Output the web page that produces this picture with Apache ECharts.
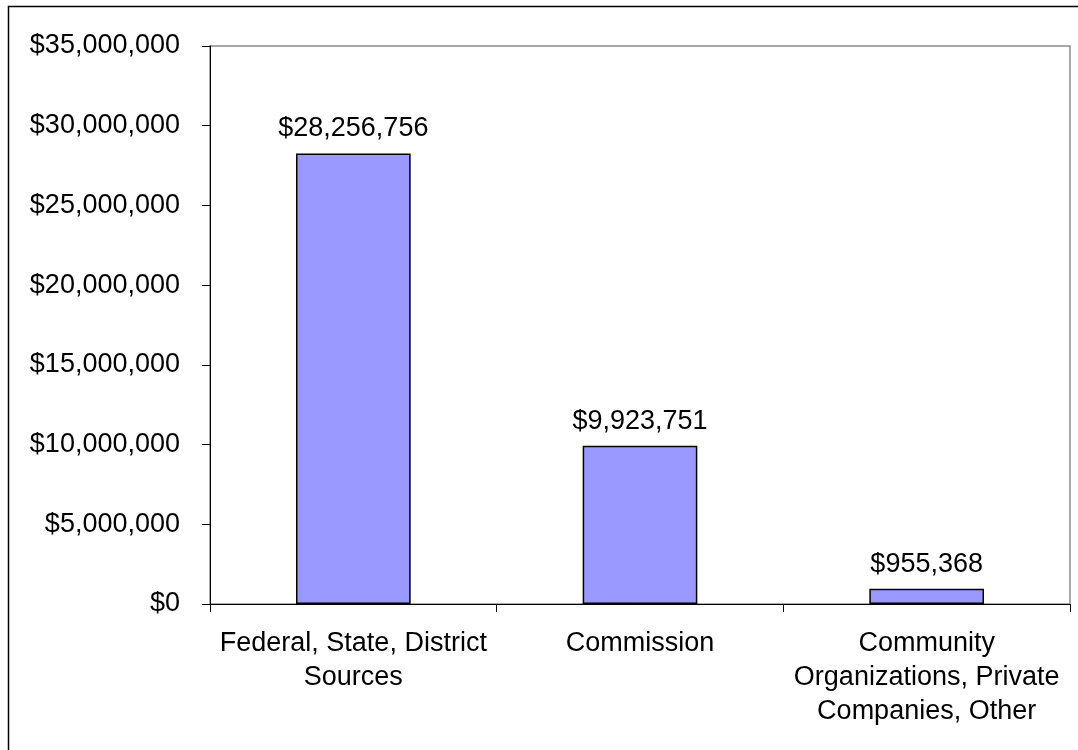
<!DOCTYPE html>
<html>
<head>
<meta charset="utf-8">
<style>
  html, body { margin: 0; padding: 0; background: #ffffff; }
  #chart { width: 1078px; height: 750px; }
</style>
<script src="https://cdn.jsdelivr.net/npm/echarts@6/dist/echarts.min.js"></script>
</head>
<body>
<div id="chart"></div>
<script>
// Funding sources and amounts (US dollars)
const categories = [
  'Federal, State, District\nSources',
  'Commission',
  'Community\nOrganizations, Private\nCompanies, Other'
];
const amounts = [28256756, 9923751, 955368];

const yMin = 0;
const yMax = 35000000;
const yStep = 5000000;

const FONT = '"Liberation Sans", Arial, sans-serif';

function money(v) {
  return '$' + Math.round(v).toString().replace(/\B(?=(\d{3})+(?!\d))/g, ',');
}

const chart = echarts.init(document.getElementById('chart'), null, { renderer: 'canvas' });

chart.setOption({
  backgroundColor: '#ffffff',
  animation: false,
  textStyle: { fontFamily: FONT },
  graphic: [{
    type: 'rect',
    left: 6, top: 4,
    shape: { x: 0, y: 0, width: 1100, height: 800 },
    style: { fill: 'none', stroke: '#000000', lineWidth: 1.5 },
    silent: true,
    z: -1
  }],
  grid: {
    left: 210, right: 8, top: 46, bottom: 146,
    show: true,
    borderColor: '#8c8c8c',
    borderWidth: 1.5,
    backgroundColor: '#ffffff',
    containLabel: false
  },
  xAxis: {
    type: 'category',
    data: categories,
    boundaryGap: true,
    axisLine: { show: true, lineStyle: { color: '#000000', width: 1 } },
    axisTick: { show: true, length: 8, alignWithLabel: false, lineStyle: { color: '#000000' } },
    axisLabel: {
      interval: 0,
      margin: 23,
      color: '#000000',
      fontFamily: FONT,
      fontSize: 27,
      lineHeight: 34,
      align: 'center'
    },
    splitLine: { show: false }
  },
  yAxis: {
    type: 'value',
    min: yMin, max: yMax, interval: yStep,
    axisLine: { show: true, lineStyle: { color: '#000000', width: 1 } },
    axisTick: { show: true, length: 8, lineStyle: { color: '#000000' } },
    axisLabel: {
      margin: 30,
      color: '#000000',
      fontFamily: FONT,
      fontSize: 27,
      formatter: money
    },
    splitLine: { show: false }
  },
  series: [{
    type: 'bar',
    data: amounts,
    barCategoryGap: '60%',
    itemStyle: { color: '#9999ff', borderColor: '#000000', borderWidth: 1.5 },
    label: {
      show: true,
      position: 'top',
      distance: 11,
      color: '#000000',
      fontFamily: FONT,
      fontSize: 27,
      formatter: p => money(p.value)
    }
  }]
});
</script>
</body>
</html>
